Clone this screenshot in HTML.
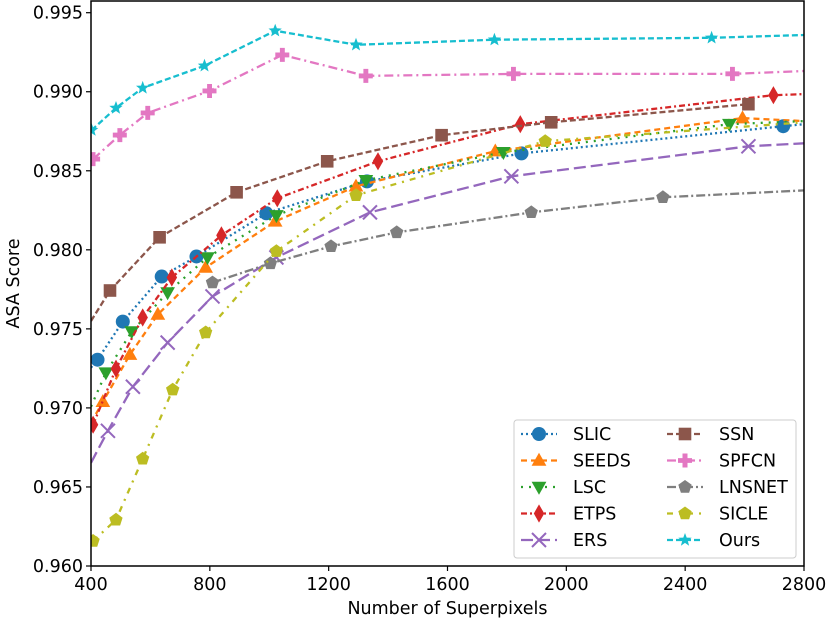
<!DOCTYPE html>
<html><head><meta charset="utf-8"><style>
body{margin:0;background:#fff;}
svg{display:block;font-family:"DejaVu Sans","Liberation Sans",sans-serif;}
</style></head><body>
<svg id="chart" width="830" height="623" viewBox="0 0 830 623">
<defs><clipPath id="pc"><rect x="91" y="1" width="713" height="565"/></clipPath></defs>
<g id="plot" clip-path="url(#pc)"></g>
<g id="axes"></g>
<g id="legend"></g>
</svg>
<script>
const xTicks=[400,800,1200,1600,2000,2400,2800];
const yTicks=[0.960,0.965,0.970,0.975,0.980,0.985,0.990,0.995];
const seriesNames=["SLIC","SEEDS","LSC","ETPS","ERS","SSN","SPFCN","LNSNET","SICLE","Ours"];
const slicX=[400,422,507,638,755,990,1329,1849,2730,2800];
const slicY=[0.97255,0.97305,0.97546,0.97831,0.97958,0.98231,0.98433,0.98610,0.98782,0.98795];
const seedsX=[400,440,531,625,786,1020,1292,1761,2593,2800];
const seedsY=[0.96906,0.97039,0.97337,0.97591,0.97888,0.98180,0.98402,0.98624,0.98833,0.98814];
const lscX=[400,450,537,658,792,1024,1325,1788,2549,2800];
const lscY=[0.97008,0.97223,0.97483,0.97730,0.97952,0.98218,0.98440,0.98617,0.98795,0.98814];
const etpsX=[407,484,574,672,839,1027,1366,1845,2697,2800];
const etpsY=[0.96894,0.97248,0.97572,0.97825,0.98091,0.98326,0.98560,0.98795,0.98978,0.98985];
const ersX=[400,457,541,658,809,1024,1339,1815,2613,2800];
const ersY=[0.96653,0.96855,0.97134,0.97413,0.97705,0.97952,0.98237,0.98465,0.98655,0.98674];
const ssnX=[400,464,631,890,1195,1580,1949,2613];
const ssnY=[0.9755,0.97743,0.98079,0.98364,0.98560,0.98725,0.98807,0.98921];
const spfcnX=[407,497,591,799,1044,1325,1822,2559,2800];
const spfcnY=[0.98574,0.98726,0.98866,0.99005,0.99233,0.99100,0.99113,0.99113,0.99131];
const lnsnetX=[809,1004,1208,1429,1882,2325,2800];
const lnsnetY=[0.97793,0.97914,0.98022,0.98110,0.98237,0.98332,0.98376];
const sicleX=[407,484,574,675,786,1024,1292,1929,2800];
const sicleY=[0.96158,0.96292,0.96678,0.97115,0.97477,0.97991,0.98345,0.98687,0.98807];
const oursX=[402,484,574,782,1020,1292,1758,2489,2800];
const oursY=[0.98757,0.98897,0.99024,0.99164,0.99386,0.99297,0.99329,0.99341,0.99359];

const allX=[slicX,seedsX,lscX,etpsX,ersX,ssnX,spfcnX,lnsnetX,sicleX,oursX];
const allY=[slicY,seedsY,lscY,etpsY,ersY,ssnY,spfcnY,lnsnetY,sicleY,oursY];
const colors=["#1f77b4","#ff7f0e","#2ca02c","#d62728","#9467bd","#8c564b","#e377c2","#7f7f7f","#bcbd22","#17becf"];
const dashes=["2,3","6,4","2,6","6,3,2,3","12,5","6,3","9,4,2,4","9,3,2,3","6,6,2,6","6,3"];
const markers=["circle","triangle-up","triangle-down","diamond","x","square","plus","pentagon","pentagon","star"];

const NS="http://www.w3.org/2000/svg";
const X0=91,X1=804,Y0=566,Y1=12.7;
function sx(v){return X0+(v-400)/2400*(X1-X0);}
function sy(v){return Y0-(v-0.960)/0.035*(Y0-Y1);}
function mk(tag,attrs,parent){const e=document.createElementNS(NS,tag);for(const k in attrs)e.setAttribute(k,attrs[k]);parent.appendChild(e);return e;}

function markerPath(type,cx,cy,r){
  let pts=[];
  if(type==="triangle-up")pts=[[0,-r*1.1],[r*1.05,r*0.75],[-r*1.05,r*0.75]];
  else if(type==="triangle-down")pts=[[0,r*1.1],[r*1.05,-r*0.75],[-r*1.05,-r*0.75]];
  else if(type==="diamond")pts=[[0,-r*1.3],[r*0.75,0],[0,r*1.3],[-r*0.75,0]];
  else if(type==="square")pts=[[-r*0.9,-r*0.9],[r*0.9,-r*0.9],[r*0.9,r*0.9],[-r*0.9,r*0.9]];
  else if(type==="pentagon"){for(let i=0;i<5;i++){const a=-Math.PI/2+i*2*Math.PI/5;pts.push([r*Math.cos(a),r*Math.sin(a)]);}}
  else if(type==="star"){for(let i=0;i<10;i++){const a=-Math.PI/2+i*Math.PI/5;const rr=i%2?r*0.42:r;pts.push([rr*Math.cos(a),rr*Math.sin(a)]);}}
  else if(type==="plus"){const a=r*0.35,b=r;pts=[[-a,-b],[a,-b],[a,-a],[b,-a],[b,a],[a,a],[a,b],[-a,b],[-a,a],[-b,a],[-b,-a],[-a,-a]];}
  return pts.map(p=>(cx+p[0]).toFixed(1)+","+(cy+p[1]).toFixed(1)).join(" ");
}
function drawMarker(type,cx,cy,r,color,parent,name){
  let el;
  if(type==="circle")el=mk("circle",{cx:cx,cy:cy,r:r,fill:color},parent);
  else if(type==="x"){el=mk("path",{d:`M${cx-r},${cy-r}L${cx+r},${cy+r}M${cx-r},${cy+r}L${cx+r},${cy-r}`,stroke:color,"stroke-width":2,fill:"none"},parent);}
  else el=mk("polygon",{points:markerPath(type,cx,cy,r),fill:color},parent);
  
  
  return el;
}

const plot=document.getElementById("plot");
allX.forEach((xs,si)=>{
  const ys=allY[si];
  const g=mk("g",{},plot);
  
  
  const d=xs.map((x,i)=>(i?"L":"M")+sx(x).toFixed(1)+","+sy(ys[i]).toFixed(1)).join("");
  const ln=mk("path",{d:d,fill:"none",stroke:colors[si],"stroke-width":2.3,"stroke-dasharray":dashes[si]},g);
  
  
  xs.forEach((x,i)=>{
    if(x<=400||x>=2800)return;
    drawMarker(markers[si],sx(x),sy(ys[i]),7,colors[si],g,seriesNames[si].toLowerCase()+'-point');
  });
});

const axes=document.getElementById("axes");
const sp=mk("rect",{x:X0,y:1,width:X1-X0,height:Y0-1,fill:"none",stroke:"#000","stroke-width":1.5},axes);


xTicks.forEach(t=>{
  const x=sx(t);
  const tk=mk("line",{x1:x,x2:x,y1:Y0,y2:Y0+5,stroke:"#000","stroke-width":1.2},axes);
  
  
  const tx=mk("text",{x:x,y:Y0+24,"text-anchor":"middle","font-size":"17.5"},axes);
  tx.textContent=String(t);
  
  
});
yTicks.forEach(t=>{
  const y=sy(t);
  const tk=mk("line",{x1:X0-5,x2:X0,y1:y,y2:y,stroke:"#000","stroke-width":1.2},axes);
  
  
  const tx=mk("text",{x:X0-8,y:y+6,"text-anchor":"end","font-size":"17.5"},axes);
  tx.textContent=t.toFixed(3);
  
  
});
const xt=mk("text",{x:(X0+X1)/2,y:614,"text-anchor":"middle","font-size":"17.5"},axes);
xt.textContent="Number of Superpixels";


const yt=mk("text",{x:0,y:0,"text-anchor":"middle","font-size":"17.5",transform:`translate(19,${(Y0+1)/2}) rotate(-90)`},axes);
yt.textContent="ASA Score";



const lg=document.getElementById("legend");
const box=mk("rect",{x:514,y:420,width:282,height:138,rx:3,fill:"#fff","fill-opacity":0.85,stroke:"#ccc","stroke-width":1},lg);


seriesNames.forEach((n,i)=>{
  const col=Math.floor(i/5),row=i%5;
  const lx=col?667:521,ly=434+row*26.5;
  const g=mk("g",{},lg);
  
  
  mk("line",{x1:lx,x2:lx+36,y1:ly,y2:ly,stroke:colors[i],"stroke-width":2.3,"stroke-dasharray":dashes[i]},g);
  drawMarker(markers[i],lx+18,ly,7,colors[i],g,'legend-marker');
  const t=mk("text",{x:lx+52,y:ly+6,"font-size":"17.5"},g);
  t.textContent=n;
  
  
});
</script>
</body></html>
